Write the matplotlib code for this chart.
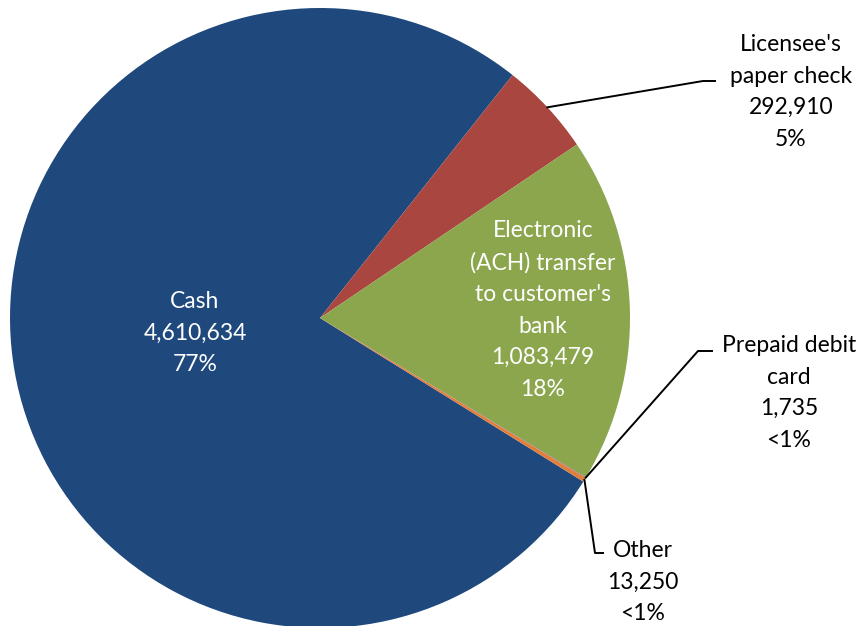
import matplotlib.pyplot as plt
import numpy as np

plt.rcParams['font.family'] = ['Lato', 'DejaVu Sans']

# data (order as drawn clockwise, starting with Cash)
labels = ['Cash', "Licensee's\npaper check", 'Electronic\n(ACH) transfer\nto customer\'s\nbank',
          'Prepaid debit\ncard', 'Other']
values = [4610634, 292910, 1083479, 1735, 13250]
pct_text = ['77%', '5%', '18%', '<1%', '<1%']
colors = ['#1F497D', '#A8463F', '#8CA64E', '#7E5F98', '#E07E3A']

W, H = 863, 626
CX, CY, R = 320, 318, 310  # pie centre / radius in pixels


def px(x, y):
    # pixel position -> data coords (pie radius 1 at origin)
    return (x - CX) / R, (CY - y) / R


fig = plt.figure(figsize=(W / 100, H / 100), dpi=100)
ax = fig.add_axes([0, 0, 1, 1])

total = sum(values)
cash_frac = values[0] / total
start = 51.6 + 360 * cash_frac
wedges, _ = ax.pie(values, colors=colors, startangle=start, counterclock=False,
                   radius=1, center=(0, 0), frame=True,
                   wedgeprops=dict(linewidth=0))
ax.set_xlim(px(0, 0)[0], px(W, 0)[0])
ax.set_ylim(px(0, H)[1], px(0, 0)[1])
ax.set_aspect('auto')
ax.axis('off')


def edge_point(w, frac=0.5):
    a = np.deg2rad(w.theta1 + (w.theta2 - w.theta1) * frac)
    return np.cos(a), np.sin(a)


fs = 16.5
ls = 1.62

def txt(i):
    return f"{labels[i]}\n{values[i]:,}\n{pct_text[i]}"

# inside labels
x, y = px(195, 333)
ax.text(x, y, txt(0), color='white', ha='center', va='center', fontsize=fs, linespacing=ls)
x, y = px(543, 310)
ax.text(x, y, txt(2), color='white', ha='center', va='center', fontsize=fs, linespacing=ls)

# Licensee's paper check
ex, ey = edge_point(wedges[1])
k1 = px(703, 81)
k2 = px(715, 81)
ax.plot([ex, k1[0], k2[0]], [ey, k1[1], k2[1]], color='black', lw=1.4)
x, y = px(791, 92)
ax.text(x, y, txt(1), color='black', ha='center', va='center', fontsize=fs, linespacing=ls)

# Prepaid debit card
ex, ey = edge_point(wedges[3])
k1 = px(698, 351)
k2 = px(712, 351)
ax.plot([ex, k1[0], k2[0]], [ey, k1[1], k2[1]], color='black', lw=1.4)
x, y = px(789, 393)
ax.text(x, y, txt(3), color='black', ha='center', va='center', fontsize=fs, linespacing=ls)

# Other
ex, ey = edge_point(wedges[4])
k1 = px(595, 553)
k2 = px(603, 553)
ax.plot([ex, k1[0], k2[0]], [ey, k1[1], k2[1]], color='black', lw=1.4)
x, y = px(643, 582)
ax.text(x, y, txt(4), color='black', ha='center', va='center', fontsize=fs, linespacing=ls)

fig.savefig('out.png', dpi=100)
